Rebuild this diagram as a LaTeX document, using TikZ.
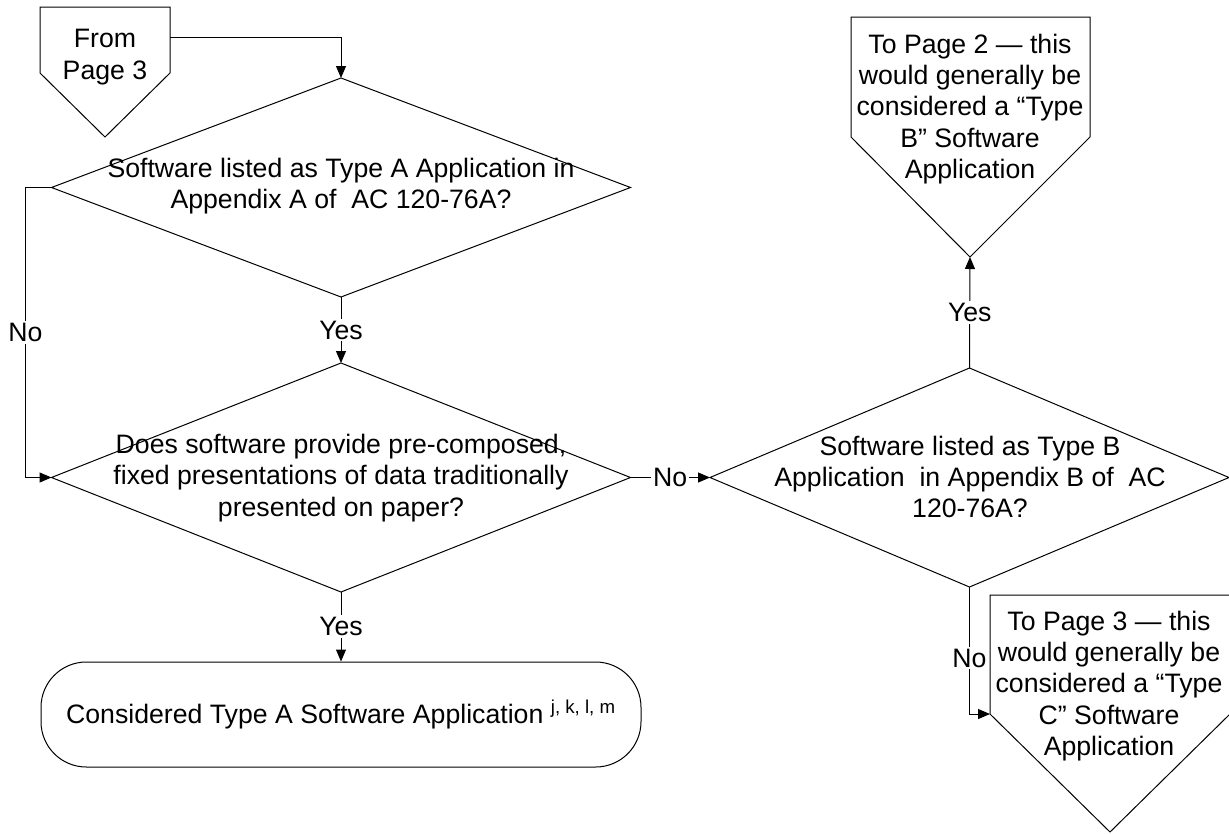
\documentclass[tikz,border=0pt]{standalone}
\usepackage{fontspec}
\setmainfont{Liberation Sans}
\usetikzlibrary{shapes.geometric,arrows.meta}
\begin{document}
\begin{tikzpicture}[x=0.75pt,y=-0.75pt,line width=0.75pt,
  every node/.style={font=\fontsize{20}{23.5}\selectfont, align=center},
  decision/.style={diamond, draw, inner sep=0pt, outer sep=0pt},
  flow/.style={-{Triangle[length=9pt,width=7.5pt]}},
  answer/.style={fill=white, inner sep=1.5pt},
  ]
\useasboundingbox (0,0) rectangle (1229,833);
\draw (40,7) -- (170,7) -- (170,73) -- (105,137) -- (40,73) -- cycle;
\node (from3) at (105,57) {From\\Page 3};
\coordinate (from3out) at (170,37);
\node[decision, minimum width=434.25pt, minimum height=164.25pt] (typeA) at (341,187.5) {};
\node (typeAtext) at (341,186) {Software listed as Type A Application in\\Appendix A of~~AC 120-76A?};
\node[decision, minimum width=434.25pt, minimum height=171.75pt] (fixed) at (341,477.5) {};
\node (fixedtext) at (341,478) {Does software provide pre-composed,\\fixed presentations of data traditionally\\presented on paper?};
\node[decision, minimum width=389.25pt, minimum height=164.25pt] (typeB) at (969.5,477.5) {};
\node (typeBtext) at (970,477) {Software listed as Type B\\Application~~in Appendix B of~~AC\\120-76A?};
\node[draw, rounded corners=34pt, minimum width=450pt, minimum height=78.75pt] (typeAapp) at (341,714.5) {Considered Type A Software Application \textsuperscript{j, k, l, m}};
\draw (851,17) -- (1090,17) -- (1090,137) -- (970,257) -- (851,137) -- cycle;
\node (to2) at (970,109) {To Page 2 — this\\would generally be\\considered a “Type\\B” Software\\Application};
\coordinate (to2tip) at (970,257);
\draw (990,595) -- (1230,595) -- (1230,714) -- (1110,832) -- (990,714) -- cycle;
\node (to3) at (1109,686) {To Page 3 — this\\would generally be\\considered a “Type\\C” Software\\Application};
\coordinate (to3in) at (990,714);
\draw[flow] (from3out) -| (typeA.north);
\draw[flow] (typeA.west) -- ++(-26,0) |- node[answer,pos=0.25]{No} (fixed.west);
\draw[flow] (typeA.south) -- node[answer]{Yes} (fixed.north);
\draw[flow] (fixed.east) -- node[answer]{No} (typeB.west);
\draw[flow] (typeB.north) -- node[answer]{Yes} (to2tip);
\draw[flow] (typeB.south) |- node[answer,pos=0.28]{No} (to3in);
\draw[flow] (fixed.south) -- node[answer]{Yes} (typeAapp.north);
\end{tikzpicture}
\end{document}
